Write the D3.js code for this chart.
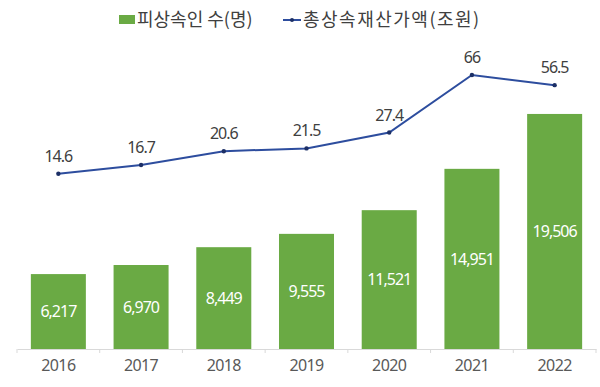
<!DOCTYPE html>
<html>
<head>
<meta charset="utf-8">
<script src="https://cdn.jsdelivr.net/npm/d3@7"></script>
<style>
  body { margin: 0; background: #fff; }
  svg { display: block; font-family: "Noto Sans", "Noto Sans CJK KR", sans-serif; }
</style>
</head>
<body>
<svg id="chart" width="600" height="387"></svg>
<script>
const years = ["2016", "2017", "2018", "2019", "2020", "2021", "2022"]
const decedents = [6217, 6970, 8449, 9555, 11521, 14951, 19506]
const estateValue = [14.6, 16.7, 20.6, 21.5, 27.4, 66, 56.5]
const barLabels = ["6,217", "6,970", "8,449", "9,555", "11,521", "14,951", "19,506"]
const lineLabels = ["14.6", "16.7", "20.6", "21.5", "27.4", "66", "56.5"]
const legendNames = ["피상속인 수(명)", "총상속재산가액(조원)"]

const width = 600
const height = 387
const barColor = "#6aaa44"
const lineColor = "#2d4d9e"

const svg = d3.select("#chart")

const x = d3.scaleBand()
  .domain(years)
  .range([17, 596])
  .paddingInner(0.335)
  .paddingOuter(0.1675)

const yBar = d3.scaleLinear()
  .domain([0, 20000])
  .range([349, 108])

// the line series sits on a log scale in the source chart
const yLine = d3.scaleLog()
  .domain([10, 100])
  .range([198.5, 47.8])

// bars
svg.selectAll(".bar")
  .data(decedents)
  .join("rect")
  .attr("class", "bar")
  .attr("x", (d, i) => x(years[i]))
  .attr("width", x.bandwidth())
  .attr("y", d => yBar(d))
  .attr("height", d => yBar(0) - yBar(d))
  .attr("fill", barColor)

svg.selectAll(".bar-label")
  .data(decedents)
  .join("text")
  .attr("class", "bar-label")
  .attr("x", (d, i) => x(years[i]) + x.bandwidth() / 2)
  .attr("y", d => (yBar(d) + yBar(0)) / 2)
  .attr("dy", "0.35em")
  .attr("text-anchor", "middle")
  .attr("fill", "#fff")
  .attr("font-size", 16)
  .attr("letter-spacing", -1)
  .text((d, i) => barLabels[i])

// x axis
const xAxis = svg.append("g")
  .attr("transform", `translate(0,${yBar(0)})`)
  .call(d3.axisBottom(x).tickSize(0).tickPadding(11))
xAxis.select(".domain").attr("stroke", "#d9d9d9")
xAxis.selectAll("text")
  .attr("font-size", 16)
  .attr("letter-spacing", -0.6)
  .attr("fill", "#595959")
  .attr("font-family", "\"Noto Sans\", sans-serif")

xAxis.selectAll(".sep")
  .data(d3.range(years.length + 1))
  .join("line")
  .attr("class", "sep")
  .attr("x1", i => 17 + i * x.step())
  .attr("x2", i => 17 + i * x.step())
  .attr("y1", 0)
  .attr("y2", 4)
  .attr("stroke", "#d9d9d9")

// line
const line = d3.line()
  .x((d, i) => x(years[i]) + x.bandwidth() / 2)
  .y(d => yLine(d))

svg.append("path")
  .datum(estateValue)
  .attr("d", line)
  .attr("fill", "none")
  .attr("stroke", lineColor)
  .attr("stroke-width", 2)

svg.selectAll(".dot")
  .data(estateValue)
  .join("circle")
  .attr("class", "dot")
  .attr("cx", (d, i) => x(years[i]) + x.bandwidth() / 2)
  .attr("cy", d => yLine(d))
  .attr("r", 2.2)
  .attr("fill", "#1c2f66")

svg.selectAll(".line-label")
  .data(estateValue)
  .join("text")
  .attr("class", "line-label")
  .attr("x", (d, i) => x(years[i]) + x.bandwidth() / 2)
  .attr("y", d => yLine(d) - 12)
  .attr("text-anchor", "middle")
  .attr("fill", "#404040")
  .attr("font-size", 16)
  .attr("letter-spacing", -1)
  .text((d, i) => lineLabels[i])

// legend
const legend = svg.append("g")
legend.append("rect")
  .attr("x", 119).attr("y", 15)
  .attr("width", 16).attr("height", 9)
  .attr("fill", barColor)
legend.append("text")
  .attr("x", 137).attr("y", 20)
  .attr("dy", "0.35em")
  .attr("font-size", 18)
  .attr("letter-spacing", 0)
  .attr("fill", "#404040")
  .attr("font-family", "\"Noto Sans CJK KR\", sans-serif")
  .text(legendNames[0])
legend.append("line")
  .attr("x1", 283).attr("x2", 301)
  .attr("y1", 20).attr("y2", 20)
  .attr("stroke", lineColor)
  .attr("stroke-width", 2)
legend.append("circle")
  .attr("cx", 292).attr("cy", 20).attr("r", 2)
  .attr("fill", "#1c2f66")
legend.append("text")
  .attr("x", 303).attr("y", 20)
  .attr("dy", "0.35em")
  .attr("font-size", 18)
  .attr("letter-spacing", 1.5)
  .attr("fill", "#404040")
  .attr("font-family", "\"Noto Sans CJK KR\", sans-serif")
  .text(legendNames[1])
</script>
</body>
</html>
